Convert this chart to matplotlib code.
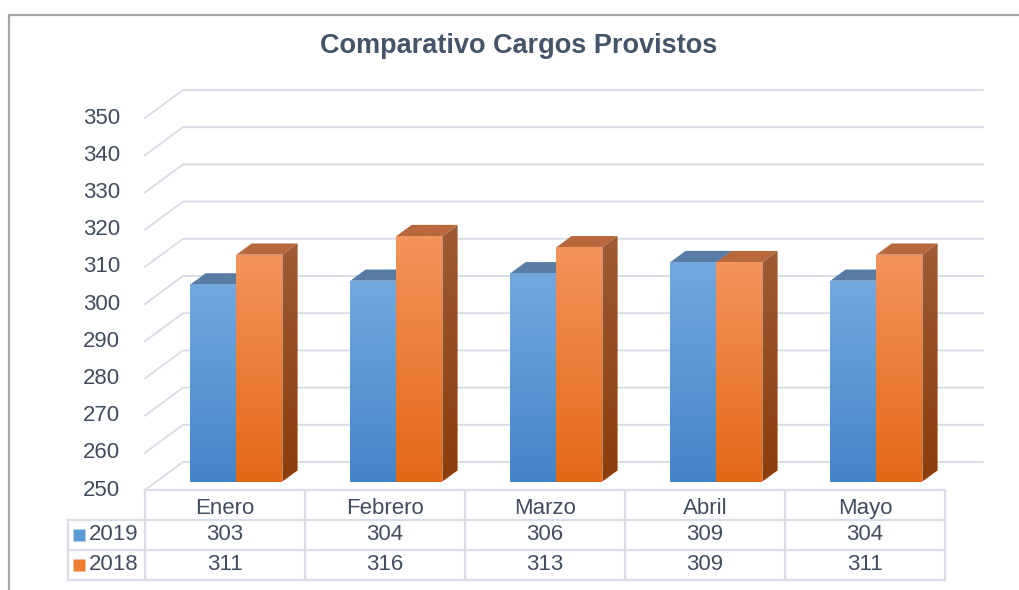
import numpy as np
import matplotlib
matplotlib.use("Agg")
import matplotlib.pyplot as plt
from matplotlib.patches import Polygon
from matplotlib.lines import Line2D
from matplotlib.colors import LinearSegmentedColormap

plt.rcParams['font.family'] = ['Liberation Sans', 'DejaVu Sans']

categories = ["Enero", "Febrero", "Marzo", "Abril", "Mayo"]
series = ["2019", "2018"]
v2019 = [303, 304, 306, 309, 304]
v2018 = [311, 316, 313, 309, 311]
yticks = [250, 260, 270, 280, 290, 300, 310, 320, 330, 340, 350]

W, H = 1019, 590
fig = plt.figure(figsize=(W / 100, H / 100), dpi=100)

txt = "#414D5E"
grid = "#DADDE6"

# main axes: x in category units (160 px each), y in values on the front plane
PXC = 160.0
PXV = 3.72
ax = fig.add_axes([0, 0, 1, 1])
xlim = (-145 / PXC, (W - 145) / PXC)
ylim = (250 - 100 / PXV, 250 + 490 / PXV)
ax.axis("off")

DX = 38 / PXC
DY = 28 / PXV
D0, D1 = 0.3, 0.7


def proj(x, v, d):
    return x + d * DX, v + d * DY


# walls
for v in yticks:
    a = proj(0, v, 0)
    b = proj(0, v, 1)
    c = proj(len(categories), v, 1)
    ax.plot([a[0], b[0], c[0]], [a[1], b[1], c[1]], color=grid, lw=1.4, zorder=1)
    ax.text(-25 / PXC, v, str(v), ha="right", va="center", fontsize=16, color=txt)

zc = [10]


def face(pts, c_top, c_bot):
    pts = np.array(pts)
    cmap = LinearSegmentedColormap.from_list("g", [c_bot, c_top])
    grad = np.linspace(0, 1, 256).reshape(-1, 1)
    ext = [pts[:, 0].min(), pts[:, 0].max(), pts[:, 1].min(), pts[:, 1].max()]
    im = ax.imshow(grad, cmap=cmap, extent=ext, origin="lower", aspect="auto",
                   zorder=zc[0], interpolation="bilinear")
    poly = Polygon(pts, closed=True, transform=ax.transData, fc="none", ec="none")
    im.set_clip_path(poly)
    zc[0] += 1


def bar(x0, x1, v, front, top, side):
    # side
    a = proj(x1, 250, D0); b = proj(x1, 250, D1); c = proj(x1, v, D1); d = proj(x1, v, D0)
    face([a, b, c, d], side[0], side[1])
    # top
    a = proj(x0, v, D0); b = proj(x1, v, D0); c = proj(x1, v, D1); d = proj(x0, v, D1)
    face([a, b, c, d], top, top)
    # front
    a = proj(x0, 250, D0); b = proj(x1, 250, D0); c = proj(x1, v, D0); d = proj(x0, v, D0)
    face([a, b, c, d], front[0], front[1])


bw = 0.2875
for i in range(len(categories)):
    cx = i + 0.5
    bar(cx - bw, cx, v2019[i], ("#72A8DE", "#4385C9"), "#587CA4", ("#4A6E96", "#3A5E86"))
    bar(cx, cx + bw, v2018[i], ("#F4935B", "#E26816"), "#B8683C", ("#9E5B33", "#8C3D0B"))

ax.set_xlim(*xlim)
ax.set_ylim(*ylim)

# data table
ax2 = fig.add_axes([68 / W, 10 / H, (945 - 68) / W, 90 / H])
ax2.set_xlim(-77 / PXC, 5)
ax2.set_ylim(3, 0)
ax2.axis("off")
lx = -77 / PXC
n = len(categories)
ax2.plot([0, n], [0, 0], color=grid, lw=1.6, clip_on=False)
for r in (1, 2, 3):
    ax2.plot([lx, n], [r, r], color=grid, lw=1.6, clip_on=False)
for c in range(n + 1):
    ax2.plot([c, c], [0, 3], color=grid, lw=1.6, clip_on=False)
ax2.plot([lx, lx], [1, 3], color=grid, lw=1.6, clip_on=False)

for i, cat in enumerate(categories):
    ax2.text(i + 0.5, 0.62, cat, ha="center", va="center", fontsize=16, color=txt)
    ax2.text(i + 0.5, 1.5, str(v2019[i]), ha="center", va="center", fontsize=16, color=txt)
    ax2.text(i + 0.5, 2.5, str(v2018[i]), ha="center", va="center", fontsize=16, color=txt)

for r, (name, col) in enumerate(zip(series, ["#5B9BD5", "#ED7D31"])):
    ax2.plot([-66 / PXC], [r + 1.5], marker="s", ms=8, color=col, mec="none")
    ax2.text(-56 / PXC, r + 1.5, name, ha="left", va="center", fontsize=16, color=txt)

# title and frame
fig.text(519 / W, 1 - 46 / H, "Comparativo Cargos Provistos", ha="center", va="center",
         fontsize=19.5, fontweight="bold", color="#44546A")
fx, fy = 8.5 / W, 1 - 14.5 / H
fig.add_artist(Line2D([fx, fx, 1], [0, fy, fy], transform=fig.transFigure,
                      color="#A6A6A6", lw=1.6))

fig.savefig("out.png", dpi=100)
